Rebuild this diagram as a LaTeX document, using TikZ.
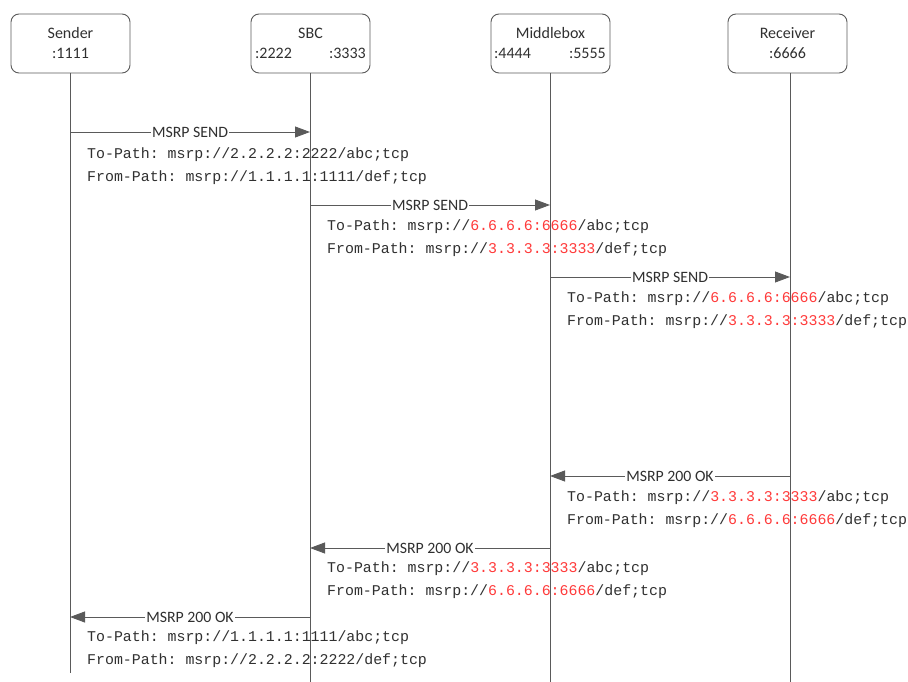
\documentclass[tikz,border=0pt]{standalone}
\usepackage{fontspec}
\setmainfont{Carlito}
\setmonofont{Liberation Mono}
\usepackage{xcolor}
\usetikzlibrary{arrows.meta, positioning, calc}
\definecolor{lineGray}{HTML}{5A5A5A}
\definecolor{textGray}{HTML}{303030}
\definecolor{addrRed}{HTML}{FF3A3A}
\newcommand{\addr}[1]{\textcolor{addrRed}{#1}}

\begin{document}
\begin{tikzpicture}[x=1pt, y=-1pt,
    party/.style={draw=lineGray, rounded corners=8pt, minimum width=119pt, minimum height=59pt, line width=0.9pt},
    life/.style={draw=lineGray, line width=0.9pt},
    msg/.style={draw=lineGray, line width=0.9pt, -{Triangle[length=15pt, width=11pt]}},
    lbl/.style={fill=white, inner sep=1pt, text=textGray, font=\fontsize{15.8}{18}\selectfont},
    hdr/.style={inner sep=0pt, text=textGray, font=\fontsize{16}{19}\selectfont},
    pathtxt/.style={anchor=west, inner sep=0pt, text=textGray, font=\ttfamily\fontsize{14.9}{18}\selectfont}]
    \useasboundingbox (0,0) rectangle (908,682);

    % parties
    \node[party] (sender) at (70.5,43.5) {};
    \node[party] (sbc) at (310.5,43.5) {};
    \node[party] (mbox) at (550.5,43.5) {};
    \node[party] (recv) at (787.5,43.5) {};

    \node[hdr] (senderName) at (70.5,33) {Sender};
    \node[hdr] (senderPort) at (70.5,53) {:1111};
    \node[hdr] (sbcName) at (310.5,33) {SBC};
    \node[hdr, anchor=west] (sbcPortA) at (255,53) {:2222};
    \node[hdr, anchor=east] (sbcPortB) at (366,53) {:3333};
    \node[hdr] (mboxName) at (550.5,33) {Middlebox};
    \node[hdr, anchor=west] (mboxPortA) at (494,53) {:4444};
    \node[hdr, anchor=east] (mboxPortB) at (606,53) {:5555};
    \node[hdr] (recvName) at (787.5,33) {Receiver};
    \node[hdr] (recvPort) at (787.5,53) {:6666};

    % lifelines
    \coordinate (senderEnd) at (70,673);
    \coordinate (sbcEnd) at (310,682);
    \coordinate (mboxEnd) at (550,682);
    \coordinate (recvEnd) at (790,682);
    \draw[life] (sender.south -| senderEnd) -- (senderEnd);
    \draw[life] (sbc.south -| sbcEnd) -- (sbcEnd);
    \draw[life] (mbox.south -| mboxEnd) -- (mboxEnd);
    \draw[life] (recv.south -| recvEnd) -- (recvEnd);

    % messages
    \foreach \i/\xa/\xb/\y/\txt in {1/70/310/132/MSRP SEND, 2/310/550/205/MSRP SEND,
        3/550/790/277/MSRP SEND, 4/790/550/476/MSRP 200 OK,
        5/550/310/548/MSRP 200 OK, 6/310/70/617/MSRP 200 OK}{
        \coordinate (m\i a) at (\xa,\y);
        \coordinate (m\i b) at (\xb,\y);
        \draw[msg] (m\i a) -- node[lbl] (m\i lbl) {\txt} (m\i b);
    }

    % headers carried by each message
    \node[pathtxt] (m1to) at ($(m1a)+(17,23)$) {To-Path: msrp://2.2.2.2:2222/abc;tcp};
    \node[pathtxt] (m1from) at ($(m1a)+(17,46)$) {From-Path: msrp://1.1.1.1:1111/def;tcp};
    \node[pathtxt] (m2to) at ($(m2a)+(17,22)$) {To-Path: msrp://\addr{6.6.6.6:6666}/abc;tcp};
    \node[pathtxt] (m2from) at ($(m2a)+(17,45)$) {From-Path: msrp://\addr{3.3.3.3:3333}/def;tcp};
    \node[pathtxt] (m3to) at ($(m3a)+(17,22)$) {To-Path: msrp://\addr{6.6.6.6:6666}/abc;tcp};
    \node[pathtxt] (m3from) at ($(m3a)+(17,45)$) {From-Path: msrp://\addr{3.3.3.3:3333}/def;tcp};
    \node[pathtxt] (m4to) at ($(m4b)+(17,22)$) {To-Path: msrp://\addr{3.3.3.3:3333}/abc;tcp};
    \node[pathtxt] (m4from) at ($(m4b)+(17,45)$) {From-Path: msrp://\addr{6.6.6.6:6666}/def;tcp};
    \node[pathtxt] (m5to) at ($(m5b)+(17,21)$) {To-Path: msrp://\addr{3.3.3.3:3333}/abc;tcp};
    \node[pathtxt] (m5from) at ($(m5b)+(17,44)$) {From-Path: msrp://\addr{6.6.6.6:6666}/def;tcp};
    \node[pathtxt] (m6to) at ($(m6b)+(17,21)$) {To-Path: msrp://1.1.1.1:1111/abc;tcp};
    \node[pathtxt] (m6from) at ($(m6b)+(17,44)$) {From-Path: msrp://2.2.2.2:2222/def;tcp};
\end{tikzpicture}
\end{document}
